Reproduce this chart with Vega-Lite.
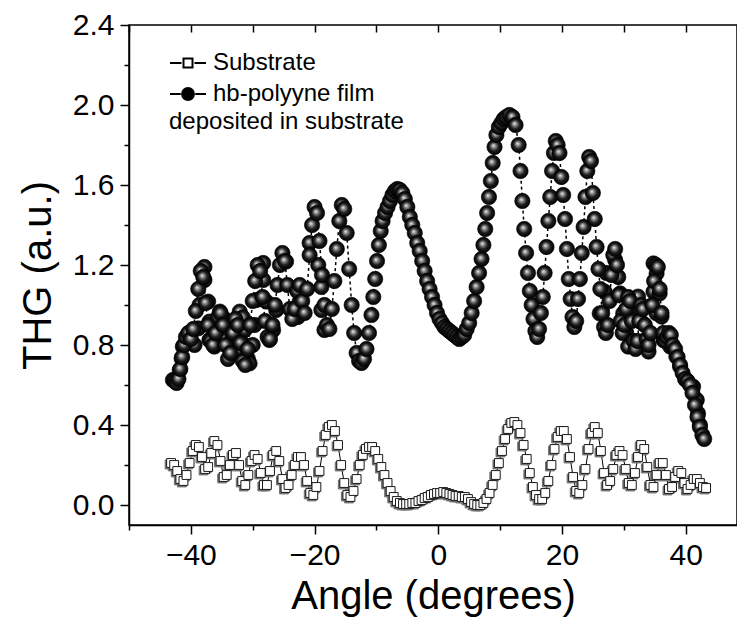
{
  "$schema": "https://vega.github.io/schema/vega-lite/v6.json",
  "width": 608,
  "height": 500,
  "autosize": {"type": "none"},
  "padding": {"left": 129, "top": 25, "right": 0, "bottom": 97},
  "background": "white",
  "config": {
    "font": "Liberation Sans",
    "view": {"stroke": "black", "strokeWidth": 1.5},
    "axis": {
      "domainColor": "black", "domainWidth": 1.5,
      "tickColor": "black", "tickWidth": 1.5,
      "labelColor": "black", "titleColor": "black",
      "grid": false,
      "labelFont": "Liberation Sans", "titleFont": "Liberation Sans",
      "labelFontSize": 30, "titleFontSize": 40, "titleFontWeight": "normal"
    }
  },
  "datasets": {
    "sub": [
      {"angle":-43.2,"thg":0.21},{"angle":-42.7,"thg":0.20},{"angle":-42.2,"thg":0.17},{"angle":-41.7,"thg":0.13},{"angle":-41.2,"thg":0.12},
      {"angle":-40.7,"thg":0.15},{"angle":-40.2,"thg":0.21},{"angle":-39.7,"thg":0.27},{"angle":-39.2,"thg":0.30},{"angle":-38.7,"thg":0.29},
      {"angle":-38.2,"thg":0.24},{"angle":-37.7,"thg":0.18},{"angle":-37.2,"thg":0.19},{"angle":-36.7,"thg":0.26},{"angle":-36.2,"thg":0.32},
      {"angle":-35.7,"thg":0.30},{"angle":-35.2,"thg":0.22},{"angle":-34.7,"thg":0.14},{"angle":-34.2,"thg":0.15},{"angle":-33.7,"thg":0.20},
      {"angle":-33.2,"thg":0.25},{"angle":-32.7,"thg":0.26},{"angle":-32.2,"thg":0.20},{"angle":-31.7,"thg":0.12},{"angle":-31.2,"thg":0.10},
      {"angle":-30.7,"thg":0.15},{"angle":-30.2,"thg":0.22},{"angle":-29.7,"thg":0.25},{"angle":-29.2,"thg":0.23},{"angle":-28.7,"thg":0.16},
      {"angle":-28.2,"thg":0.10},{"angle":-27.7,"thg":0.10},{"angle":-27.2,"thg":0.17},{"angle":-26.7,"thg":0.25},{"angle":-26.2,"thg":0.27},
      {"angle":-25.7,"thg":0.22},{"angle":-25.2,"thg":0.13},{"angle":-24.7,"thg":0.085},{"angle":-24.2,"thg":0.10},{"angle":-23.7,"thg":0.15},
      {"angle":-23.2,"thg":0.20},{"angle":-22.7,"thg":0.24},{"angle":-22.2,"thg":0.24},{"angle":-21.7,"thg":0.20},{"angle":-21.2,"thg":0.12},
      {"angle":-20.7,"thg":0.06},{"angle":-20.2,"thg":0.05},{"angle":-19.7,"thg":0.09},{"angle":-19.2,"thg":0.17},{"angle":-18.7,"thg":0.27},
      {"angle":-18.2,"thg":0.35},{"angle":-17.7,"thg":0.39},{"angle":-17.2,"thg":0.40},{"angle":-16.7,"thg":0.37},{"angle":-16.2,"thg":0.30},
      {"angle":-15.7,"thg":0.20},{"angle":-15.2,"thg":0.11},{"angle":-14.7,"thg":0.05},{"angle":-14.2,"thg":0.04},{"angle":-13.7,"thg":0.07},
      {"angle":-13.2,"thg":0.13},{"angle":-12.7,"thg":0.20},{"angle":-12.2,"thg":0.25},{"angle":-11.7,"thg":0.28},{"angle":-11.2,"thg":0.29},
      {"angle":-10.7,"thg":0.29},{"angle":-10.2,"thg":0.27},{"angle":-9.7,"thg":0.23},{"angle":-9.2,"thg":0.19},{"angle":-8.7,"thg":0.15},
      {"angle":-8.2,"thg":0.11},{"angle":-7.7,"thg":0.07},{"angle":-7.2,"thg":0.04},{"angle":-6.7,"thg":0.02},{"angle":-6.2,"thg":0.01},
      {"angle":-5.7,"thg":0.005},{"angle":-5.2,"thg":0.005},{"angle":-4.7,"thg":0.005},{"angle":-4.2,"thg":0.01},{"angle":-3.7,"thg":0.01},
      {"angle":-3.2,"thg":0.02},{"angle":-2.7,"thg":0.025},{"angle":-2.2,"thg":0.035},{"angle":-1.7,"thg":0.04},{"angle":-1.2,"thg":0.05},
      {"angle":-0.7,"thg":0.055},{"angle":-0.2,"thg":0.06},{"angle":0.3,"thg":0.06},{"angle":0.8,"thg":0.065},{"angle":1.3,"thg":0.06},
      {"angle":1.8,"thg":0.055},{"angle":2.3,"thg":0.05},{"angle":2.8,"thg":0.045},{"angle":3.3,"thg":0.045},{"angle":3.8,"thg":0.04},
      {"angle":4.3,"thg":0.04},{"angle":4.8,"thg":0.03},{"angle":5.3,"thg":0.015},{"angle":5.8,"thg":0.005},{"angle":6.3,"thg":0.0},
      {"angle":6.8,"thg":0.0},{"angle":7.3,"thg":0.01},{"angle":7.8,"thg":0.03},{"angle":8.3,"thg":0.06},{"angle":8.8,"thg":0.10},
      {"angle":9.3,"thg":0.15},{"angle":9.8,"thg":0.21},{"angle":10.3,"thg":0.27},{"angle":10.8,"thg":0.33},{"angle":11.3,"thg":0.38},
      {"angle":11.8,"thg":0.41},{"angle":12.3,"thg":0.415},{"angle":12.8,"thg":0.40},{"angle":13.3,"thg":0.36},{"angle":13.8,"thg":0.30},
      {"angle":14.3,"thg":0.23},{"angle":14.8,"thg":0.16},{"angle":15.3,"thg":0.09},{"angle":15.8,"thg":0.05},{"angle":16.3,"thg":0.03},
      {"angle":16.8,"thg":0.03},{"angle":17.3,"thg":0.06},{"angle":17.8,"thg":0.12},{"angle":18.3,"thg":0.20},{"angle":18.8,"thg":0.28},
      {"angle":19.3,"thg":0.34},{"angle":19.8,"thg":0.37},{"angle":20.3,"thg":0.37},{"angle":20.8,"thg":0.33},{"angle":21.3,"thg":0.24},
      {"angle":21.8,"thg":0.14},{"angle":22.3,"thg":0.07},{"angle":22.8,"thg":0.06},{"angle":23.3,"thg":0.10},{"angle":23.8,"thg":0.18},
      {"angle":24.3,"thg":0.28},{"angle":24.8,"thg":0.36},{"angle":25.3,"thg":0.39},{"angle":25.8,"thg":0.36},{"angle":26.3,"thg":0.27},
      {"angle":26.8,"thg":0.16},{"angle":27.3,"thg":0.10},{"angle":27.8,"thg":0.12},{"angle":28.3,"thg":0.18},{"angle":28.8,"thg":0.25},
      {"angle":29.3,"thg":0.27},{"angle":29.8,"thg":0.25},{"angle":30.3,"thg":0.18},{"angle":30.8,"thg":0.11},{"angle":31.3,"thg":0.10},
      {"angle":31.8,"thg":0.16},{"angle":32.3,"thg":0.24},{"angle":32.8,"thg":0.30},{"angle":33.3,"thg":0.28},{"angle":33.8,"thg":0.19},
      {"angle":34.3,"thg":0.10},{"angle":34.8,"thg":0.09},{"angle":35.3,"thg":0.15},{"angle":35.8,"thg":0.21},{"angle":36.3,"thg":0.21},
      {"angle":36.8,"thg":0.15},{"angle":37.3,"thg":0.08},{"angle":37.8,"thg":0.09},{"angle":38.3,"thg":0.14},{"angle":38.8,"thg":0.17},
      {"angle":39.3,"thg":0.16},{"angle":39.8,"thg":0.11},{"angle":40.3,"thg":0.08},{"angle":40.8,"thg":0.10},{"angle":41.3,"thg":0.13},
      {"angle":41.8,"thg":0.13},{"angle":42.3,"thg":0.11},{"angle":42.8,"thg":0.09},{"angle":43.3,"thg":0.085}
    ],
    "hb": [
      {"angle":-42.6,"thg":0.62},{"angle":-42.3,"thg":0.61},{"angle":-42.0,"thg":0.63},{"angle":-41.7,"thg":0.68},{"angle":-41.4,"thg":0.74},
      {"angle":-41.1,"thg":0.80},{"angle":-40.8,"thg":0.84},{"angle":-40.4,"thg":0.86},{"angle":-40.0,"thg":0.83},{"angle":-39.6,"thg":0.88},
      {"angle":-39.2,"thg":0.97},{"angle":-38.8,"thg":1.08},{"angle":-38.4,"thg":1.17},{"angle":-38.0,"thg":1.14},{"angle":-37.6,"thg":1.01},
      {"angle":-37.2,"thg":0.90},{"angle":-36.8,"thg":0.82},{"angle":-36.4,"thg":0.80},{"angle":-36.0,"thg":0.86},{"angle":-35.6,"thg":0.94},
      {"angle":-35.2,"thg":0.96},{"angle":-34.8,"thg":0.90},{"angle":-34.4,"thg":0.80},{"angle":-34.0,"thg":0.73},{"angle":-33.6,"thg":0.76},
      {"angle":-33.2,"thg":0.86},{"angle":-32.8,"thg":0.93},{"angle":-32.4,"thg":0.90},{"angle":-32.0,"thg":0.81},{"angle":-31.6,"thg":0.72},
      {"angle":-31.2,"thg":0.70},{"angle":-30.8,"thg":0.78},{"angle":-30.4,"thg":0.90},{"angle":-30.0,"thg":1.02},{"angle":-29.6,"thg":1.12},
      {"angle":-29.2,"thg":1.20},{"angle":-28.8,"thg":1.17},{"angle":-28.4,"thg":1.04},{"angle":-28.0,"thg":0.92},{"angle":-27.6,"thg":0.84},
      {"angle":-27.2,"thg":0.83},{"angle":-26.8,"thg":0.90},{"angle":-26.4,"thg":1.00},{"angle":-26.0,"thg":1.10},{"angle":-25.6,"thg":1.20},
      {"angle":-25.2,"thg":1.26},{"angle":-24.8,"thg":1.22},{"angle":-24.4,"thg":1.10},{"angle":-24.0,"thg":0.98},{"angle":-23.6,"thg":0.93},
      {"angle":-23.2,"thg":0.98},{"angle":-22.8,"thg":1.07},{"angle":-22.4,"thg":1.10},{"angle":-22.0,"thg":1.02},{"angle":-21.6,"thg":0.96},
      {"angle":-21.2,"thg":1.08},{"angle":-20.8,"thg":1.25},{"angle":-20.4,"thg":1.40},{"angle":-20.0,"thg":1.49},{"angle":-19.6,"thg":1.46},
      {"angle":-19.2,"thg":1.32},{"angle":-18.8,"thg":1.15},{"angle":-18.4,"thg":1.00},{"angle":-18.0,"thg":0.90},{"angle":-17.6,"thg":0.88},
      {"angle":-17.2,"thg":0.98},{"angle":-16.8,"thg":1.12},{"angle":-16.4,"thg":1.28},{"angle":-16.0,"thg":1.42},{"angle":-15.6,"thg":1.50},
      {"angle":-15.2,"thg":1.48},{"angle":-14.8,"thg":1.36},{"angle":-14.4,"thg":1.18},{"angle":-14.0,"thg":1.00},{"angle":-13.6,"thg":0.86},
      {"angle":-13.2,"thg":0.76},{"angle":-12.8,"thg":0.72},{"angle":-12.4,"thg":0.71},{"angle":-12.0,"thg":0.73},{"angle":-11.6,"thg":0.78},
      {"angle":-11.2,"thg":0.86},{"angle":-10.8,"thg":0.95},{"angle":-10.5,"thg":1.04},{"angle":-10.2,"thg":1.13},{"angle":-9.9,"thg":1.22},
      {"angle":-9.6,"thg":1.30},{"angle":-9.3,"thg":1.37},{"angle":-9.0,"thg":1.42},{"angle":-8.6,"thg":1.46},{"angle":-8.2,"thg":1.49},
      {"angle":-7.8,"thg":1.52},{"angle":-7.4,"thg":1.55},{"angle":-7.0,"thg":1.57},{"angle":-6.6,"thg":1.58},{"angle":-6.2,"thg":1.575},
      {"angle":-5.8,"thg":1.56},{"angle":-5.4,"thg":1.53},{"angle":-5.0,"thg":1.49},{"angle":-4.6,"thg":1.44},{"angle":-4.2,"thg":1.40},
      {"angle":-3.8,"thg":1.36},{"angle":-3.4,"thg":1.31},{"angle":-3.0,"thg":1.27},{"angle":-2.6,"thg":1.22},{"angle":-2.2,"thg":1.17},
      {"angle":-1.8,"thg":1.12},{"angle":-1.4,"thg":1.08},{"angle":-1.0,"thg":1.04},{"angle":-0.6,"thg":1.00},{"angle":-0.2,"thg":0.96},
      {"angle":0.2,"thg":0.93},{"angle":0.6,"thg":0.91},{"angle":1.0,"thg":0.89},{"angle":1.4,"thg":0.88},{"angle":1.8,"thg":0.87},
      {"angle":2.2,"thg":0.86},{"angle":2.6,"thg":0.85},{"angle":3.0,"thg":0.84},{"angle":3.4,"thg":0.83},{"angle":3.8,"thg":0.84},
      {"angle":4.2,"thg":0.85},{"angle":4.6,"thg":0.88},{"angle":5.0,"thg":0.91},{"angle":5.4,"thg":0.96},{"angle":5.8,"thg":1.02},
      {"angle":6.2,"thg":1.09},{"angle":6.6,"thg":1.16},{"angle":7.0,"thg":1.23},{"angle":7.3,"thg":1.30},{"angle":7.6,"thg":1.38},
      {"angle":7.9,"thg":1.46},{"angle":8.2,"thg":1.54},{"angle":8.5,"thg":1.62},{"angle":8.8,"thg":1.71},{"angle":9.1,"thg":1.79},
      {"angle":9.4,"thg":1.85},{"angle":9.8,"thg":1.89},{"angle":10.2,"thg":1.91},{"angle":10.6,"thg":1.93},{"angle":11.0,"thg":1.94},
      {"angle":11.5,"thg":1.95},{"angle":12.0,"thg":1.94},{"angle":12.5,"thg":1.90},{"angle":13.0,"thg":1.80},{"angle":13.3,"thg":1.67},
      {"angle":13.6,"thg":1.52},{"angle":13.9,"thg":1.38},{"angle":14.2,"thg":1.26},{"angle":14.5,"thg":1.16},{"angle":14.8,"thg":1.07},
      {"angle":15.1,"thg":1.00},{"angle":15.4,"thg":0.93},{"angle":15.7,"thg":0.87},{"angle":16.0,"thg":0.84},{"angle":16.3,"thg":0.88},
      {"angle":16.6,"thg":0.96},{"angle":16.9,"thg":1.04},{"angle":17.2,"thg":1.16},{"angle":17.5,"thg":1.29},{"angle":17.8,"thg":1.42},
      {"angle":18.1,"thg":1.54},{"angle":18.4,"thg":1.67},{"angle":18.7,"thg":1.76},{"angle":19.0,"thg":1.82},{"angle":19.3,"thg":1.80},
      {"angle":19.6,"thg":1.76},{"angle":19.9,"thg":1.64},{"angle":20.2,"thg":1.55},{"angle":20.5,"thg":1.43},{"angle":20.8,"thg":1.28},
      {"angle":21.1,"thg":1.13},{"angle":21.4,"thg":1.03},{"angle":21.7,"thg":0.94},{"angle":22.0,"thg":0.89},{"angle":22.3,"thg":0.92},
      {"angle":22.6,"thg":1.03},{"angle":22.9,"thg":1.13},{"angle":23.2,"thg":1.26},{"angle":23.5,"thg":1.39},{"angle":23.8,"thg":1.54},
      {"angle":24.1,"thg":1.67},{"angle":24.4,"thg":1.74},{"angle":24.7,"thg":1.72},{"angle":25.0,"thg":1.56},{"angle":25.3,"thg":1.43},
      {"angle":25.6,"thg":1.29},{"angle":25.9,"thg":1.18},{"angle":26.2,"thg":1.08},{"angle":26.5,"thg":0.96},{"angle":26.8,"thg":0.89},
      {"angle":27.1,"thg":0.86},{"angle":27.4,"thg":0.90},{"angle":27.7,"thg":1.02},{"angle":28.0,"thg":1.15},{"angle":28.3,"thg":1.25},
      {"angle":28.6,"thg":1.28},{"angle":28.9,"thg":1.20},{"angle":29.2,"thg":1.05},{"angle":29.5,"thg":0.92},{"angle":29.8,"thg":0.86},
      {"angle":30.1,"thg":0.90},{"angle":30.4,"thg":0.98},{"angle":30.7,"thg":1.04},{"angle":31.0,"thg":1.02},{"angle":31.3,"thg":0.92},
      {"angle":31.6,"thg":0.82},{"angle":31.9,"thg":0.78},{"angle":32.2,"thg":0.82},{"angle":32.5,"thg":0.92},{"angle":32.8,"thg":1.00},
      {"angle":33.1,"thg":0.98},{"angle":33.4,"thg":0.90},{"angle":33.7,"thg":0.83},{"angle":34.0,"thg":0.80},{"angle":34.3,"thg":0.86},
      {"angle":34.6,"thg":1.00},{"angle":34.9,"thg":1.12},{"angle":35.2,"thg":1.20},{"angle":35.5,"thg":1.19},{"angle":35.8,"thg":1.08},
      {"angle":36.1,"thg":0.96},{"angle":36.4,"thg":0.86},{"angle":36.7,"thg":0.82},{"angle":37.0,"thg":0.84},{"angle":37.3,"thg":0.86},
      {"angle":37.6,"thg":0.85},{"angle":37.9,"thg":0.80},{"angle":38.3,"thg":0.78},{"angle":38.7,"thg":0.74},{"angle":39.1,"thg":0.70},
      {"angle":39.5,"thg":0.66},{"angle":39.9,"thg":0.63},{"angle":40.3,"thg":0.62},{"angle":40.7,"thg":0.60},{"angle":41.1,"thg":0.56},
      {"angle":41.5,"thg":0.50},{"angle":41.9,"thg":0.44},{"angle":42.3,"thg":0.39},{"angle":42.7,"thg":0.35},{"angle":43.0,"thg":0.33}
    ],
    "hb2": [
      {"angle":-42.9,"thg":0.625},{"angle":-41.8,"thg":0.675},{"angle":-41.5,"thg":0.733},{"angle":-41.3,"thg":0.792},{"angle":-40.5,"thg":0.825},
      {"angle":-39.4,"thg":0.80},{"angle":-38.8,"thg":0.883},{"angle":-38.6,"thg":1.0},{"angle":-37.8,"thg":1.19},{"angle":-37.8,"thg":1.125},
      {"angle":-37.2,"thg":1.017},{"angle":-37.0,"thg":0.917},{"angle":-37.0,"thg":0.825},{"angle":-36.2,"thg":0.842},{"angle":-36.2,"thg":0.792},
      {"angle":-35.3,"thg":0.967},{"angle":-34.8,"thg":0.938},{"angle":-34.5,"thg":0.875},{"angle":-34.5,"thg":0.825},{"angle":-33.7,"thg":0.792},
      {"angle":-33.2,"thg":0.842},{"angle":-32.7,"thg":0.892},{"angle":-32.4,"thg":0.775},{"angle":-32.1,"thg":0.967},{"angle":-31.6,"thg":0.938},
      {"angle":-31.3,"thg":0.875},{"angle":-31.3,"thg":0.80},{"angle":-30.8,"thg":0.733},{"angle":-30.5,"thg":0.708},{"angle":-30.0,"thg":0.80},
      {"angle":-29.7,"thg":0.90},{"angle":-29.4,"thg":1.025},{"angle":-28.3,"thg":1.21},{"angle":-28.3,"thg":1.125},{"angle":-27.8,"thg":1.017},
      {"angle":-27.3,"thg":0.825},{"angle":-26.7,"thg":0.875},{"angle":-26.2,"thg":0.975},{"angle":-24.6,"thg":1.217},{"angle":-22.9,"thg":0.975},
      {"angle":-22.7,"thg":0.94},{"angle":-22.4,"thg":1.017},{"angle":-20.8,"thg":1.31},{"angle":-19.4,"thg":1.2},{"angle":-18.9,"thg":1.09},
      {"angle":-18.9,"thg":0.975},{"angle":-18.4,"thg":0.875},
      {"angle":26.1,"thg":0.958},{"angle":26.9,"thg":1.067},{"angle":27.2,"thg":1.16},{"angle":28.6,"thg":1.225},{"angle":29.1,"thg":1.14},
      {"angle":29.4,"thg":1.058},{"angle":29.9,"thg":0.958},{"angle":30.4,"thg":0.858},{"angle":30.7,"thg":0.792},{"angle":31.5,"thg":1.025},
      {"angle":32.3,"thg":1.042},{"angle":32.6,"thg":0.975},{"angle":33.1,"thg":0.908},{"angle":33.7,"thg":0.825},{"angle":34.0,"thg":0.767},
      {"angle":34.8,"thg":1.208},{"angle":35.3,"thg":1.158},{"angle":34.8,"thg":1.067},{"angle":35.8,"thg":1.058},{"angle":35.3,"thg":0.958},
      {"angle":36.1,"thg":0.942},{"angle":36.4,"thg":0.825},{"angle":37.5,"thg":0.792},{"angle":38.5,"thg":0.742},{"angle":39.1,"thg":0.692},
      {"angle":40.1,"thg":0.625},{"angle":41.2,"thg":0.592},{"angle":41.8,"thg":0.525},{"angle":42.0,"thg":0.458},{"angle":42.3,"thg":0.40}
    ],
    "legend": [
      {"series":"Substrate"},
      {"series":"hb-polyyne film"}
    ]
  },
  "resolve": {"axis": {"x": "independent"}},
  "layer": [
    {
      "data": {"name": "sub"},
      "mark": {"type": "line", "color": "black", "strokeWidth": 1},
      "encoding": {
        "x": {
          "field": "angle", "type": "quantitative",
          "scale": {"domain": [-50, 48.3], "nice": false, "zero": false},
          "axis": {
            "orient": "bottom",
            "values": [-50, -40, -30, -20, -10, 0, 10, 20, 30, 40],
            "labelExpr": "datum.value % 20 == 0 ? datum.label : ''",
            "tickSize": {"condition": {"test": "datum.value % 20 != 0", "value": 5}, "value": 9},
            "labelPadding": 6,
            "title": "Angle (degrees)",
            "titlePadding": 6
          }
        },
        "y": {
          "field": "thg", "type": "quantitative",
          "scale": {"domain": [-0.1, 2.4], "nice": false, "zero": false},
          "axis": {
            "values": [0, 0.2, 0.4, 0.6, 0.8, 1.0, 1.2, 1.4, 1.6, 1.8, 2.0, 2.2, 2.4],
            "format": ".1f",
            "labelExpr": "round(datum.value * 10) % 4 == 0 ? datum.label : ''",
            "tickSize": {"condition": {"test": "round(datum.value * 10) % 4 != 0", "value": 5}, "value": 9},
            "labelPadding": 6,
            "title": "THG (a.u.)",
            "titlePadding": 14
          }
        }
      }
    },
    {
      "data": {"name": "sub"},
      "mark": {"type": "point", "shape": "square", "filled": true, "fill": "#707070", "stroke": "#707070", "strokeWidth": 1, "size": 78, "opacity": 1, "xOffset": -1.5, "yOffset": 1.5},
      "encoding": {
        "x": {
          "field": "angle", "type": "quantitative",
          "axis": {
            "orient": "top",
            "values": [-50, -40, -30, -20, -10, 0, 10, 20, 30, 40],
            "labels": false,
            "domain": false,
            "title": null,
            "offset": -7,
            "tickSize": 7
          }
        },
        "y": {"field": "thg", "type": "quantitative"}
      }
    },
    {
      "data": {"name": "sub"},
      "mark": {"type": "point", "shape": "square", "filled": true, "fill": "white", "stroke": "#1a1a1a", "strokeWidth": 1, "size": 78, "opacity": 1},
      "encoding": {
        "x": {"field": "angle", "type": "quantitative", "axis": null},
        "y": {"field": "thg", "type": "quantitative"}
      }
    },
    {
      "data": {"name": "hb"},
      "mark": {"type": "line", "color": "black", "strokeWidth": 1.5, "strokeDash": [3, 3]},
      "encoding": {
        "x": {"field": "angle", "type": "quantitative", "axis": null},
        "y": {"field": "thg", "type": "quantitative"}
      }
    },
    {
      "data": {"name": "hb2"},
      "mark": {
        "type": "point", "shape": "circle", "filled": true, "size": 235, "opacity": 1,
        "stroke": "black", "strokeWidth": 0.6,
        "fill": {
          "gradient": "radial", "x1": 0.42, "y1": 0.4, "r1": 0, "x2": 0.5, "y2": 0.5, "r2": 0.5,
          "stops": [
            {"offset": 0, "color": "#f2f2f2"},
            {"offset": 0.22, "color": "#9a9a9a"},
            {"offset": 0.6, "color": "#1e1e1e"},
            {"offset": 1, "color": "#000000"}
          ]
        }
      },
      "encoding": {
        "x": {"field": "angle", "type": "quantitative", "axis": null},
        "y": {"field": "thg", "type": "quantitative"}
      }
    },
    {
      "data": {"name": "hb"},
      "mark": {
        "type": "point", "shape": "circle", "filled": true, "size": 235, "opacity": 1,
        "stroke": "black", "strokeWidth": 0.6,
        "fill": {
          "gradient": "radial", "x1": 0.42, "y1": 0.4, "r1": 0, "x2": 0.5, "y2": 0.5, "r2": 0.5,
          "stops": [
            {"offset": 0, "color": "#f2f2f2"},
            {"offset": 0.22, "color": "#9a9a9a"},
            {"offset": 0.6, "color": "#1e1e1e"},
            {"offset": 1, "color": "#000000"}
          ]
        }
      },
      "encoding": {
        "x": {"field": "angle", "type": "quantitative", "axis": null},
        "y": {"field": "thg", "type": "quantitative"}
      }
    },
    {
      "data": {"name": "legend"},
      "transform": [{"filter": "datum.series == 'none'"}],
      "mark": {"type": "point", "filled": false, "strokeWidth": 2, "size": 1296, "opacity": 1},
      "encoding": {
        "x": {"field": "angle", "type": "quantitative", "axis": null},
        "y": {"field": "thg", "type": "quantitative"},
        "shape": {
          "field": "series", "type": "nominal",
          "scale": {
            "domain": ["Substrate", "hb-polyyne film"],
            "range": [
              "M-1,0H-0.36M0.36,0H1M-0.25,-0.25H0.25V0.25H-0.25Z",
              "M-1,0H-0.4M0.4,0H1M-0.33,0A0.33,0.33,0,1,1,0.33,0A0.33,0.33,0,1,1,-0.33,0Z"
            ]
          },
          "legend": {
            "orient": "none", "legendX": 40, "legendY": 19, "padding": 0,
            "title": "deposited in substrate", "titleOrient": "bottom", "titleAnchor": "start",
            "titleFont": "Liberation Sans", "titleFontSize": 24, "titleFontWeight": "normal", "titleColor": "black", "titlePadding": 4, "titleLimit": 500,
            "labelFont": "Liberation Sans", "labelFontSize": 24, "labelColor": "black", "labelOffset": 6, "labelLimit": 500,
            "rowPadding": -8, "symbolSize": 1296, "symbolStrokeWidth": 2, "symbolOpacity": 1
          }
        },
        "fill": {
          "field": "series", "type": "nominal",
          "scale": {"domain": ["Substrate", "hb-polyyne film"], "range": ["white", "black"]},
          "legend": {
            "orient": "none", "legendX": 40, "legendY": 19, "padding": 0,
            "title": "deposited in substrate", "titleOrient": "bottom", "titleAnchor": "start",
            "titleFont": "Liberation Sans", "titleFontSize": 24, "titleFontWeight": "normal", "titleColor": "black", "titlePadding": 4, "titleLimit": 500,
            "labelFont": "Liberation Sans", "labelFontSize": 24, "labelColor": "black", "labelOffset": 6, "labelLimit": 500,
            "rowPadding": -8, "symbolSize": 1296, "symbolStrokeWidth": 2, "symbolOpacity": 1
          }
        },
        "stroke": {
          "field": "series", "type": "nominal",
          "scale": {"domain": ["Substrate", "hb-polyyne film"], "range": ["black", "black"]},
          "legend": {
            "orient": "none", "legendX": 40, "legendY": 19, "padding": 0,
            "title": "deposited in substrate", "titleOrient": "bottom", "titleAnchor": "start",
            "titleFont": "Liberation Sans", "titleFontSize": 24, "titleFontWeight": "normal", "titleColor": "black", "titlePadding": 4, "titleLimit": 500,
            "labelFont": "Liberation Sans", "labelFontSize": 24, "labelColor": "black", "labelOffset": 6, "labelLimit": 500,
            "rowPadding": -8, "symbolSize": 1296, "symbolStrokeWidth": 2, "symbolOpacity": 1
          }
        }
      }
    }
  ]
}
